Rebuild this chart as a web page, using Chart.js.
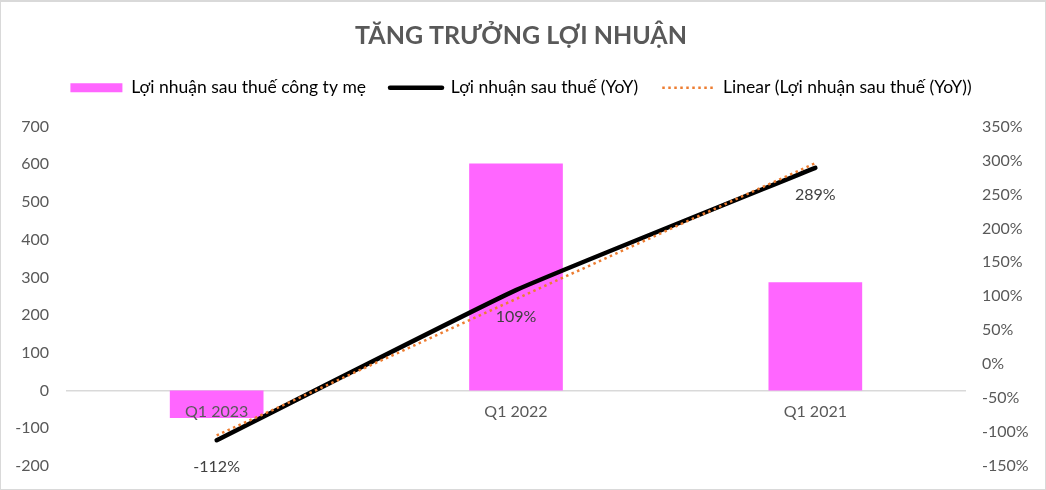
<!DOCTYPE html>
<html>
<head>
<meta charset="utf-8">
<script src="https://cdn.jsdelivr.net/npm/chart.js@4.4.1/dist/chart.umd.min.js"></script>
<style>
  html, body { margin: 0; padding: 0; background: #fff; }
  #wrap { width: 1046px; height: 490px; box-sizing: border-box; border: 1px solid #d9d9d9; border-top-width: 2px; }
</style>
</head>
<body>
<div id="wrap"><canvas id="myChart1"></canvas></div>
<script>
// số liệu
const categories = ["Q1 2023", "Q1 2022", "Q1 2021"];
const profitParent = [-73, 602, 287];      // Lợi nhuận sau thuế công ty mẹ
const profitYoY = [-112, 109, 289];        // Lợi nhuận sau thuế (YoY), %
const trendYoY = [-105, 96, 296];          // Linear (...), %
const leftTicks = [-200, 700, 100];        // min, max, step
const rightTicks = [-150, 350, 50];

// nhãn % dưới các điểm của đường YoY
const yoyLabels = {
    id: "yoyLabels",
    afterDatasetsDraw(chart) {
        const ctx = chart.ctx;
        const meta = chart.getDatasetMeta(1);
        ctx.save();
        ctx.font = "16px Lato";
        ctx.fillStyle = "#404040";
        ctx.textAlign = "center";
        ctx.textBaseline = "middle";
        meta.data.forEach(function(pt, i){
            ctx.fillText(profitYoY[i] + "%", pt.x, pt.y + 27);
        });
        ctx.restore();
    }
};

// thêm khoảng trống dưới chú thích
const legendGap = {
    id: "legendGap",
    beforeLayout(chart) {
        const lg = chart.legend;
        if (lg && !lg._gapPatched) {
            const fit = lg.fit;
            lg.fit = function(){
                fit.call(this);
                this.height += 20;
            };
            lg._gapPatched = true;
        }
    }
};

// trục dọc: bỏ padding tự động trên/dưới
function fixWidth(w){
    return function(scale){
        scale.width = w;
        scale.paddingTop = 0;
        scale.paddingBottom = 0;
    };
}

window.onload = function(){
    const ctx = document.getElementById("myChart1").getContext("2d");
    const myChart = new Chart(ctx, {
        type: "bar",
        data: {
            labels: categories,
            datasets: [
                {
                    label: "Lợi nhuận sau thuế công ty mẹ",
                    data: profitParent,
                    backgroundColor: "#FF66FF",
                    yAxisID: "y",
                    barPercentage: 0.313,
                    categoryPercentage: 1,
                    order: 3,
                },
                {
                    type: "line",
                    label: "Lợi nhuận sau thuế (YoY)",
                    data: profitYoY,
                    borderColor: "#000000",
                    backgroundColor: "#000000",
                    borderWidth: 4.5,
                    borderCapStyle: "round",
                    tension: 0.12,
                    pointRadius: 0,
                    yAxisID: "y1",
                    order: 2,
                },
                {
                    type: "line",
                    label: "Linear (Lợi nhuận sau thuế (YoY))",
                    data: trendYoY,
                    borderColor: "#ED7D31",
                    backgroundColor: "#ED7D31",
                    borderWidth: 2.5,
                    borderDash: [2.5, 3.5],
                    pointRadius: 0,
                    yAxisID: "y1",
                    order: 1,
                },
            ],
        },
        options: {
            responsive: true,
            maintainAspectRatio: false,
            animation: false,
            layout: { padding: { left: 0, right: 4, top: 0, bottom: 23 } },
            plugins: {
                title: {
                    display: true,
                    text: "TĂNG TRƯỞNG LỢI NHUẬN",
                    color: "#595959",
                    font: { family: "Lato", size: 25, weight: "bold" },
                    padding: { top: 19, bottom: 4 },
                },
                legend: {
                    display: true,
                    labels: {
                        color: "#595959",
                        font: { family: "Lato", size: 17.5 },
                        usePointStyle: true,
                        pointStyleWidth: 52,
                        boxHeight: 9,
                        padding: 24,
                        generateLabels: function(chart){
                            const ds = chart.data.datasets;
                            return [
                                { text: ds[0].label, fillStyle: "#FF66FF", strokeStyle: "#FF66FF", lineWidth: 0, pointStyle: "rect", datasetIndex: 0 },
                                { text: ds[1].label, fillStyle: "#000", strokeStyle: "#000", lineWidth: 4.5, lineCap: "round", pointStyle: "line", datasetIndex: 1 },
                                { text: ds[2].label, fillStyle: "#ED7D31", strokeStyle: "#ED7D31", lineWidth: 2.5, lineDash: [2.5, 3.5], pointStyle: "line", datasetIndex: 2 },
                            ];
                        },
                    },
                },
                tooltip: { enabled: false },
            },
            scales: {
                x: {
                    position: { y: 0 },
                    grid: { display: false, drawTicks: false },
                    border: { display: true, color: "#d9d9d9", width: 1.5 },
                    ticks: { z: 1, color: "#595959", font: { family: "Lato", size: 16 }, padding: 12 },
                },
                y: {
                    position: "left",
                    min: leftTicks[0],
                    max: leftTicks[1],
                    ticks: { stepSize: leftTicks[2], color: "#595959", font: { family: "Lato", size: 16 }, padding: 18 },
                    grid: { display: false, drawTicks: false },
                    border: { display: false },
                    afterFit: fixWidth(66),
                },
                y1: {
                    position: "right",
                    min: rightTicks[0],
                    max: rightTicks[1],
                    ticks: {
                        stepSize: rightTicks[2],
                        color: "#595959",
                        font: { family: "Lato", size: 16 },
                        padding: 17,
                        callback: function(v){ return v + "%"; },
                    },
                    grid: { display: false, drawTicks: false },
                    border: { display: false },
                    afterFit: fixWidth(76),
                },
            },
        },
        plugins: [yoyLabels, legendGap],
    });
};
</script>
</body>
</html>
